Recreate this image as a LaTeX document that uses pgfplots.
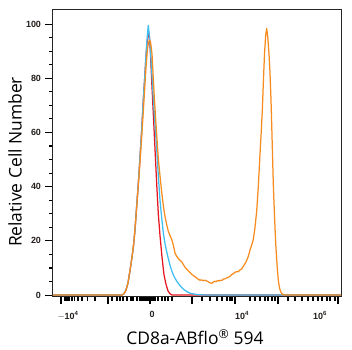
\documentclass[border=0pt]{standalone}
\usepackage{fontspec}
\setmainfont{Open Sans}
\newfontfamily\tickfont{Liberation Sans}
\usepackage{pgfplots}
\pgfplotsset{compat=1.18}
\definecolor{cRed}{RGB}{232,20,30}
\definecolor{cCyan}{RGB}{60,190,240}
\definecolor{cOrange}{RGB}{247,140,30}
\definecolor{tickcol}{RGB}{35,30,28}
\begin{document}
\begin{tikzpicture}
\begin{axis}[name=ax, scale only axis, width=288bp, height=286.7bp,
  xmin=53, xmax=341, ymin=-0.6, ymax=105.2,
  clip=false,
  axis line style={line width=1bp, black!85},
  tick align=outside, xtick pos=bottom, ytick pos=left,
  ytick={0,20,...,100}, minor y tick num=3,
  major tick length=7.5bp, minor tick length=3.8bp,
  every tick/.style={line width=1.1bp, black},
  xtick={61,108,150,192,235,278,338}, xticklabels={},
  minor xtick={65,67,69,72,74.5,78,82,87.5,95,112,117,120,123,127,131,133,137,140,141.5,143,144,145,146,147,148,149,150.5,152,153,155,158,162,165,168,172,202,210,217,222,227,230,232,250,255,260,265,268,272,275,288,295,302,308,313,318,322,327,330,335},
  extra x ticks={68,152,242,320},
  extra x tick labels={$-$10\textsuperscript{4},0,10\textsuperscript{4},10\textsuperscript{6}},
  extra x tick style={major tick length=0pt, xticklabel style={yshift=-11.5bp}},
  /pgf/number format/assume math mode=true,
  tick label style={font=\tickfont\bfseries\fontsize{9}{10}\selectfont, text=tickcol},
  yticklabel style={xshift=-1bp},
  xlabel={CD8a-ABflo\textsuperscript{\textregistered} 594},
  ylabel={Relative Cell Number},
  label style={font=\fontsize{17.5}{20}\selectfont},
  xlabel style={at={(axis description cs:0.493,-0.14)}, anchor=center},
  ylabel style={at={(axis description cs:-0.132,0.47)}, anchor=center},
  every axis plot/.append style={line width=1.25bp, line join=round},
]
\addplot[cRed] coordinates {
(53,0)(122,0)(124,0.5)(126,1.8)(128,4.5)(130,9)(132,14)(133.3,17.5)(135,24)(136.7,33)(138.3,41)(140,51)(141.7,61)(143.3,72)(145,82)(146,88)(147,93)(148,96)(148.7,97)(149.5,95)(150.5,89)(151.7,79)(153.3,67)(155,54)(156.7,41)(158.3,30)(160,22)(162,14)(164,7.5)(166,4)(168,1.5)(170,0.5)(172,0)(341,0)};
\addplot[cCyan] coordinates {
(53,0)(122,0)(124,0.5)(126,1.8)(128,4.5)(130,9)(132,14)(133.3,17.5)(135,24)(136.7,33)(138.3,41)(140,51)(141.7,61)(143.3,72)(145,82)(146,88.5)(147,94)(148,98.5)(148.3,99.5)(149,97)(150,93)(151.5,84)(153.3,72.6)(155,63)(156.7,54)(158.5,43)(160,35)(161.7,28.5)(163.3,23)(165,19)(166.7,16)(168.3,13.5)(170,11)(171.7,9)(173.3,7.5)(175,6.2)(177,5)(180,3.5)(183,2.3)(186.7,1.3)(190,0.7)(195,0.3)(200,0.1)(210,0)(341,0)};
\addplot[cOrange] coordinates {
(53,0)(122,0)(124,0.5)(126,1.8)(128,4.5)(130,9)(132,14)(134,20)(136,29)(138,39)(140,49)(142,60)(144,72)(146,84)(147.5,91)(148.7,93.5)(149.5,94)(150.5,93.5)(152,89)(154.3,73)(156,63)(158.3,50.4)(160,44)(161.7,38)(163.3,33)(165,29)(166.7,26)(168.3,23.5)(170,22)(171.7,20.5)(173.3,18.5)(175,15.5)(176.7,14.3)(178.3,13.5)(180,12.8)(181.7,12.3)(183.3,11.3)(185,10.3)(186.7,9.5)(188.3,9)(190,8.3)(191.7,7.7)(193.3,7.2)(195,6.8)(196.7,6.3)(198.3,5.8)(200,5.5)(201.7,5.6)(203.3,5.3)(205,5.5)(206.7,5.2)(208.3,4.9)(209.5,4.6)(211.7,4.3)(213,4.7)(214.5,5.1)(216,4.9)(217.5,5.4)(219,5.2)(220.5,5.5)(222,5.4)(223.3,5.9)(225,6)(226.7,6.3)(228.3,6.6)(230,6.9)(231.7,7.6)(233.3,7.9)(235,8.4)(236.7,8.7)(238.3,8.6)(240,9.3)(241.7,9.6)(243.3,10.6)(245,11.6)(246.7,12.8)(248.3,14.3)(250,16.6)(251.7,18.5)(253.3,20.5)(255,25)(256.7,31)(258.3,40)(260,52)(261.2,60)(262.3,68)(263.3,78)(264.5,89)(265.7,96)(266.7,98.4)(267.8,95)(269,89)(270,82)(271,72)(271.7,63)(272.5,52)(273.3,41)(274.2,32)(275,25)(275.8,18.5)(276.7,13)(277.5,9)(278.3,5.5)(279.2,3.3)(280,2)(281,1)(282,0.5)(284,0)(341,0)};
\end{axis}
\pgfresetboundingbox
\path ([shift={(-53bp,-53.3bp)}]ax.south west) rectangle ([shift={(11bp,10bp)}]ax.north east);
\end{tikzpicture}
\end{document}
